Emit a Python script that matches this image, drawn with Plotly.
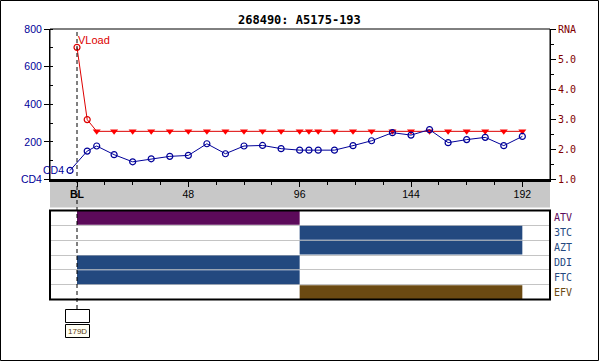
import plotly.graph_objects as go

W, H = 600, 362

# ---- data ----
title_text = "268490: A5175-193"

cd4_weeks = [-3, 4.4, 8.5, 16, 24, 32, 40, 48, 56, 64, 72, 80, 88, 96, 100, 104,
             111, 119, 127, 136, 144, 152, 160, 168, 176, 184, 192]
cd4_values = [48, 151, 178, 132, 94, 110, 123, 128, 190, 137, 178, 181, 164, 156,
              156, 156, 156, 180, 206, 249, 236, 265, 196, 212, 224, 180, 229]

vl_weeks = [0, 4.4, 8.5, 16, 24, 32, 40, 48, 56, 64, 72, 80, 88, 96, 100, 104,
            111, 119, 127, 136, 144, 152, 160, 168, 176, 184, 192]
vl_log = [5.39, 2.99, 2.6, 2.6, 2.6, 2.6, 2.6, 2.6, 2.6, 2.6, 2.6, 2.6, 2.6, 2.6,
          2.6, 2.6, 2.6, 2.6, 2.6, 2.6, 2.6, 2.6, 2.6, 2.6, 2.6, 2.6, 2.6]
vl_below_limit = [False, False] + [True] * 25

x_tickvals = [0, 48, 96, 144, 192]
x_ticktext = ["<b>BL</b>", "48", "96", "144", "192"]
cd4_tickvals = [0, 200, 400, 600, 800]
cd4_ticktext = ["CD4", "200", "400", "600", "800"]
rna_tickvals = [1, 2, 3, 4, 5, 6]
rna_ticktext = ["1.0", "2.0", "3.0", "4.0", "5.0", "RNA"]

drug_names = ["ATV", "3TC", "AZT", "DDI", "FTC", "EFV"]
drug_start = [0, 96, 96, 0, 0, 96]
drug_stop = [96, 192, 192, 96, 96, 192]
drug_colors = ["#5C0A5A", "#23497F", "#23497F", "#23497F", "#23497F", "#6B4A12"]

# ---- helpers (pixel -> paper) ----
def px(x):
    return x / W

def py(y):
    return 1 - y / H

NAVY = "#000099"
RED = "#DD0000"
DARKRED = "#800000"
MONO = "DejaVu Sans Mono"
SANS = "Liberation Sans"

fig = go.Figure()

# viral load (on y, right side)
fig.add_trace(go.Scatter(
    x=vl_weeks, y=vl_log, mode="lines", line=dict(color=RED, width=1),
    xaxis="x", yaxis="y", showlegend=False, hoverinfo="skip"))
det_x = [w for w, b in zip(vl_weeks, vl_below_limit) if not b]
det_y = [v for v, b in zip(vl_log, vl_below_limit) if not b]
und_x = [w for w, b in zip(vl_weeks, vl_below_limit) if b]
und_y = [v for v, b in zip(vl_log, vl_below_limit) if b]
fig.add_trace(go.Scatter(
    x=det_x, y=det_y, mode="markers",
    marker=dict(symbol="circle-open", size=6, color=RED, line=dict(width=1.2, color=RED)),
    xaxis="x", yaxis="y", showlegend=False))
fig.add_trace(go.Scatter(
    x=und_x, y=und_y, mode="markers",
    marker=dict(symbol="triangle-down", size=7, color="#FF0000", line=dict(width=0)),
    xaxis="x", yaxis="y", showlegend=False))

# CD4 (on y2, left side, overlaying)
fig.add_trace(go.Scatter(
    x=cd4_weeks, y=cd4_values, mode="lines+markers",
    line=dict(color=NAVY, width=1),
    marker=dict(symbol="circle-open", size=6, color=NAVY, line=dict(width=1.2, color=NAVY)),
    xaxis="x", yaxis="y2", showlegend=False))

# drug bars
for i, name in enumerate(drug_names):
    fig.add_trace(go.Bar(
        y=[i + 0.5], x=[drug_stop[i] - drug_start[i]], base=[drug_start[i]],
        orientation="h", width=0.93, marker=dict(color=drug_colors[i], line=dict(width=0)),
        xaxis="x2", yaxis="y3", showlegend=False))

xrange = [-11.64, 203.93]
xdom = [px(50), px(550)]

fig.update_layout(
    template="none",
    width=W, height=H,
    margin=dict(l=0, r=0, t=0, b=0, pad=0),
    paper_bgcolor="white", plot_bgcolor="white",
    showlegend=False,
    barmode="overlay",
    xaxis=dict(
        domain=xdom, range=xrange, anchor="y", automargin=False,
        tickvals=x_tickvals, ticktext=x_ticktext,
        ticks="outside", ticklen=5, tickcolor="black", tickwidth=1,
        minor=dict(tick0=0, dtick=12, ticks="outside", ticklen=3, tickcolor="black", showgrid=False),
        showline=True, linecolor="black", linewidth=2,
        showgrid=False, zeroline=False,
        tickfont=dict(family=SANS, size=10.5, color="black"),
        ticklabelstandoff=-1,
    ),
    yaxis=dict(
        domain=[py(179.5), py(29)], range=[1, 6], side="right", anchor="x", automargin=False,
        tickvals=rna_tickvals, ticktext=rna_ticktext,
        ticks="outside", ticklen=5, tickcolor="black",
        minor=dict(tick0=1, dtick=0.5, ticks="outside", ticklen=3, tickcolor="black", showgrid=False),
        showline=True, linecolor="black", linewidth=1,
        showgrid=False, zeroline=False,
        tickfont=dict(family=MONO, size=10, color=DARKRED),
    ),
    yaxis2=dict(
        domain=[py(179.5), py(29)], range=[0, 800], side="left", overlaying="y", anchor="x",
        automargin=False,
        tickvals=cd4_tickvals, ticktext=cd4_ticktext,
        ticks="outside", ticklen=5, tickcolor="black",
        minor=dict(tick0=0, dtick=100, ticks="inside", ticklen=3, tickcolor="black", showgrid=False),
        showline=True, linecolor="black", linewidth=1,
        showgrid=False, zeroline=False,
        tickfont=dict(family=SANS, size=10.5, color=NAVY),
    ),
    xaxis2=dict(
        domain=xdom, range=xrange, anchor="y3", matches="x", automargin=False,
        showticklabels=False, ticks="", showgrid=False, zeroline=False, showline=False,
    ),
    yaxis3=dict(
        domain=[py(299.5), py(210.5)], range=[6, 0], side="right", anchor="x2", automargin=False,
        tickvals=[i + 0.5 for i in range(len(drug_names))],
        ticktext=[f"<span style='color:{c}'>{n}</span>" for n, c in zip(drug_names, drug_colors)],
        ticks="", showgrid=False, zeroline=False, showline=False,
        minor=dict(tick0=0, dtick=1, showgrid=True, gridcolor="#C4C4C4", gridwidth=1, ticks=""),
        tickfont=dict(family=MONO, size=10),
        ticklabelstandoff=3,
    ),
)

shapes = [
    # gray x-axis band
    dict(type="rect", xref="paper", yref="paper", x0=px(50), x1=px(550), y0=py(207.5), y1=py(180),
         fillcolor="#C8C8C8", line=dict(width=0), layer="below"),
    # main plot frame
    dict(type="rect", xref="paper", yref="paper", x0=px(50), x1=px(550), y0=py(179.5), y1=py(29),
         line=dict(color="black", width=1), fillcolor="rgba(0,0,0,0)"),
    # drug panel frame
    dict(type="rect", xref="paper", yref="paper", x0=px(50), x1=px(550), y0=py(299.5), y1=py(210.5),
         line=dict(color="black", width=2), fillcolor="rgba(0,0,0,0)"),
    # baseline dashed line
    dict(type="line", xref="x", yref="paper", x0=0, x1=0, y0=py(309), y1=py(29),
         line=dict(color="black", width=1, dash="4px,3px")),
    # small boxes under baseline
    dict(type="rect", xref="paper", yref="paper", x0=px(65.5), x1=px(89.5), y0=py(322.5), y1=py(309.5),
         line=dict(color="black", width=1), fillcolor="white"),
    dict(type="rect", xref="paper", yref="paper", x0=px(65.5), x1=px(89.5), y0=py(337.5), y1=py(324.5),
         line=dict(color="black", width=1), fillcolor="#FFFFF4"),
    # outer frame
    dict(type="rect", xref="paper", yref="paper", x0=px(0.5), x1=px(598.5), y0=py(360.5), y1=py(0.5),
         line=dict(color="black", width=1), fillcolor="rgba(0,0,0,0)"),
]
fig.update_layout(shapes=shapes)

annotations = [
    dict(text=f"<b>{title_text}</b>", xref="paper", yref="paper", x=px(299), y=py(19.5),
         xanchor="center", yanchor="middle", showarrow=False,
         font=dict(family=MONO, size=12, color="black")),
    dict(text="VLoad", xref="x", yref="y", x=vl_weeks[0], y=vl_log[0],
         xanchor="left", yanchor="middle", yshift=7, xshift=-1, showarrow=False,
         font=dict(family=SANS, size=11, color=RED)),
    dict(text="CD4", xref="x", yref="y2", x=cd4_weeks[0], y=cd4_values[0],
         xanchor="right", yanchor="middle", xshift=-4, showarrow=False,
         font=dict(family=SANS, size=10.5, color=NAVY)),
    dict(text="179D", xref="paper", yref="paper", x=px(77.5), y=py(331),
         xanchor="center", yanchor="middle", showarrow=False,
         font=dict(family=SANS, size=8, color="#5A3A10")),
]
fig.update_layout(annotations=annotations)

page_css = (
    "var s=document.createElement('style');"
    "s.textContent='html,body{margin:0 !important;padding:0 !important;overflow:hidden !important;"
    "font-size:0;line-height:0;height:362px;width:600px;}';"
    "document.head.appendChild(s);"
)

fig.write_html(
    "out.html",
    config=dict(displayModeBar=False),
    post_script=page_css,
)
